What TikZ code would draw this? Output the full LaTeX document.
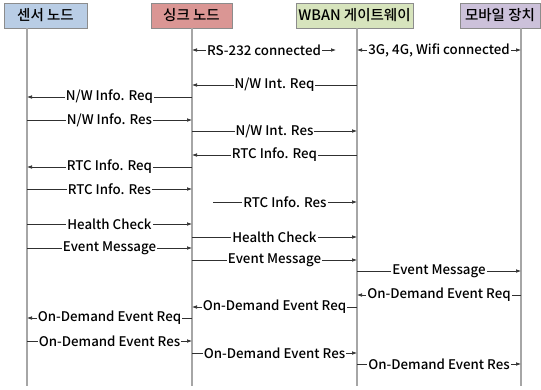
\documentclass[tikz,border=0pt]{standalone}
\usepackage{fontspec}
\setmainfont{Noto Sans CJK KR}[UprightFont=* Medium]
\usetikzlibrary{arrows.meta}

\definecolor{sensorfill}{HTML}{B9CDE5}
\definecolor{sinkfill}{HTML}{DA9694}
\definecolor{gwfill}{HTML}{D7E4BD}
\definecolor{mobilefill}{HTML}{CCC1DA}
\definecolor{boxgray}{HTML}{8C8C8C}
\definecolor{lifegray}{HTML}{A6A6A6}
\definecolor{msggray}{HTML}{303030}

\tikzset{
	hdr/.style={draw=boxgray, line width=0.8pt, minimum height=25pt, inner sep=0pt, font=\fontsize{14.5}{16}\selectfont},
	life/.style={draw=lifegray, line width=1.2pt},
	msg/.style={draw=msggray, line width=0.6pt, -{Latex[length=5pt,width=3.6pt]}},
	both/.style={draw=msggray, line width=0.6pt, {Latex[length=5pt,width=3.6pt]}-{Latex[length=5pt,width=3.6pt]}},
	lbl/.style={fill=white, inner sep=1pt, font=\fontsize{13.3}{15}\selectfont}
}

\begin{document}
\begin{tikzpicture}[x=1pt,y=-1pt]
	\useasboundingbox (0,0) rectangle (541,389);

	% header boxes
	\node[hdr, fill=sensorfill, minimum width=83pt] (sensor) at (45.5,15.5) {센서 노드};
	\node[hdr, fill=sinkfill, minimum width=81pt] (sink) at (191.5,15.5) {싱크 노드};
	\node[hdr, fill=gwfill, minimum width=117pt] (gw) at (354.5,15.5) {WBAN 게이트웨이};
	\node[hdr, fill=mobilefill, minimum width=80pt] (mobile) at (500,15.5) {모바일 장치};

	% lifelines
	\coordinate (sensorL) at (27,28);
	\coordinate (sinkL) at (192,28);
	\coordinate (gwL) at (357,28);
	\coordinate (mobileL) at (521,28);
	\foreach \l in {sensorL, sinkL, gwL, mobileL}
		\draw[life] (\l) -- (\l |- 0,386);

	% connections
	\coordinate (rsEnd) at (336,50);
	\draw[both] (sinkL |- 0,50) -- (rsEnd) node[midway, lbl]{RS-232 connected};
	\draw[both] (gwL |- 0,50) -- (mobileL |- 0,50) node[midway, lbl]{3G, 4G, Wifi connected};

	% messages
	\foreach \a/\b/\y/\txt in {
		gwL/sinkL/85/{N/W Int. Req},
		sinkL/sensorL/97/{N/W Info. Req},
		sensorL/sinkL/120/{N/W Info. Res},
		sinkL/gwL/131/{N/W Int. Res},
		gwL/sinkL/155/{RTC Info. Req},
		sinkL/sensorL/167/{RTC Info. Req},
		sensorL/sinkL/189/{RTC Info. Res},
		sensorL/sinkL/224/{Health Check},
		sinkL/gwL/237/{Health Check},
		sensorL/sinkL/248/{Event Message},
		sinkL/gwL/260/{Event Message},
		gwL/mobileL/271/{Event Message},
		mobileL/gwL/295/{On-Demand Event Req},
		gwL/sinkL/307/{On-Demand Event Req},
		sinkL/sensorL/318/{On-Demand Event Req},
		sensorL/sinkL/341/{On-Demand Event Res},
		sinkL/gwL/353/{On-Demand Event Res},
		gwL/mobileL/364/{On-Demand Event Res}}
		\draw[msg] (\a |- 0,\y) -- (\b |- 0,\y) node[midway, lbl]{\txt};

	\coordinate (rtcStart) at (213,202);
	\draw[msg] (rtcStart) -- (gwL |- rtcStart) node[midway, lbl]{RTC Info. Res};
\end{tikzpicture}
\end{document}
